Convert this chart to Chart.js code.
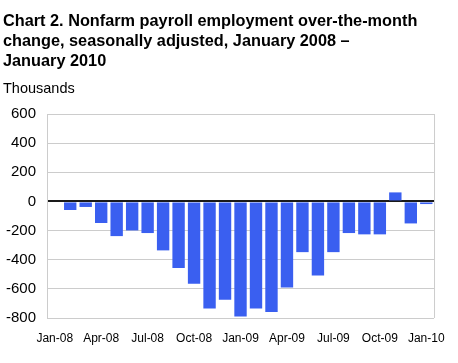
<!DOCTYPE html>
<html><head><meta charset="utf-8">
<script src="https://cdn.jsdelivr.net/npm/chart.js@4"></script>
<style>
html,body{margin:0;padding:0;background:#fff;width:458px;height:363px;overflow:hidden;font-family:"Liberation Sans",Arial,sans-serif;}
#title{position:absolute;left:3px;top:10px;font-weight:bold;font-size:16.3px;line-height:20px;color:#000;width:455px;}
#unit{position:absolute;left:3px;top:80px;font-size:14.5px;color:#000;}
#wrap{position:absolute;left:0;top:0;width:458px;height:363px;}
</style></head>
<body>
<div id="wrap"><canvas id="c" width="458" height="363"></canvas></div>
<div id="title">Chart 2. Nonfarm payroll employment over-the-month<br>change, seasonally adjusted, January 2008 –<br>January 2010</div>
<div id="unit">Thousands</div>
<script>
const categories = ["Jan-08","Feb-08","Mar-08","Apr-08","May-08","Jun-08","Jul-08","Aug-08","Sep-08","Oct-08","Nov-08","Dec-08",
  "Jan-09","Feb-09","Mar-09","Apr-09","May-09","Jun-09","Jul-09","Aug-09","Sep-09","Oct-09","Nov-09","Dec-09","Jan-10"];
const values = [-7,-59,-38,-148,-238,-199,-217,-336,-457,-565,-734,-675,
  -789,-734,-759,-590,-348,-508,-348,-217,-226,-226,62,-151,-18];
const yTicks = [600,400,200,0,-200,-400,-600,-800];

const ctx = document.getElementById('c');
new Chart(ctx, {
  type: 'bar',
  data: { labels: categories, datasets: [{ data: values, backgroundColor: '#3a5ff0', barPercentage: 0.8, categoryPercentage: 1.0 }] },
  options: {
    responsive: false, animation: false,
    layout: { padding: { top: 114, right: 18, bottom: 0, left: 0 } },
    plugins: { legend: { display: false }, tooltip: { enabled: false } },
    scales: {
      x: {
        grid: { display: false, drawTicks: false },
        border: { display: false },
        ticks: { autoSkip: false, maxRotation: 0, minRotation: 0, color: '#000', font: { family: 'Liberation Sans', size: 12 }, padding: 13,
          callback: function(v, i) { return i % 3 === 0 ? categories[i] : ''; } },
        afterFit: function(s) { s.height = 45; }
      },
      y: {
        min: -800, max: 600,
        afterBuildTicks: function(s) { s.ticks = yTicks.map(v => ({ value: v })); },
        grid: {
          color: function(c) { return c.tick && c.tick.value === 0 ? '#1a1a1a' : '#cccccc'; },
          lineWidth: function(c) { return c.tick && c.tick.value === 0 ? 2 : 1; },
          drawTicks: false
        },
        border: { display: true, color: '#cccccc' },
        ticks: { color: '#000', font: { family: 'Liberation Sans', size: 15 }, padding: 11 },
        afterFit: function(s) { s.width = 47; }
      }
    }
  },
  plugins: [{
    id: 'rightBorder',
    afterDraw(chart) {
      const a = chart.chartArea, c = chart.ctx;
      c.save(); c.strokeStyle = '#cccccc'; c.lineWidth = 1;
      c.beginPath(); c.moveTo(a.right + 0.5, a.top); c.lineTo(a.right + 0.5, a.bottom); c.stroke();
      c.restore();
    }
  }]
});
</script>
</body></html>
